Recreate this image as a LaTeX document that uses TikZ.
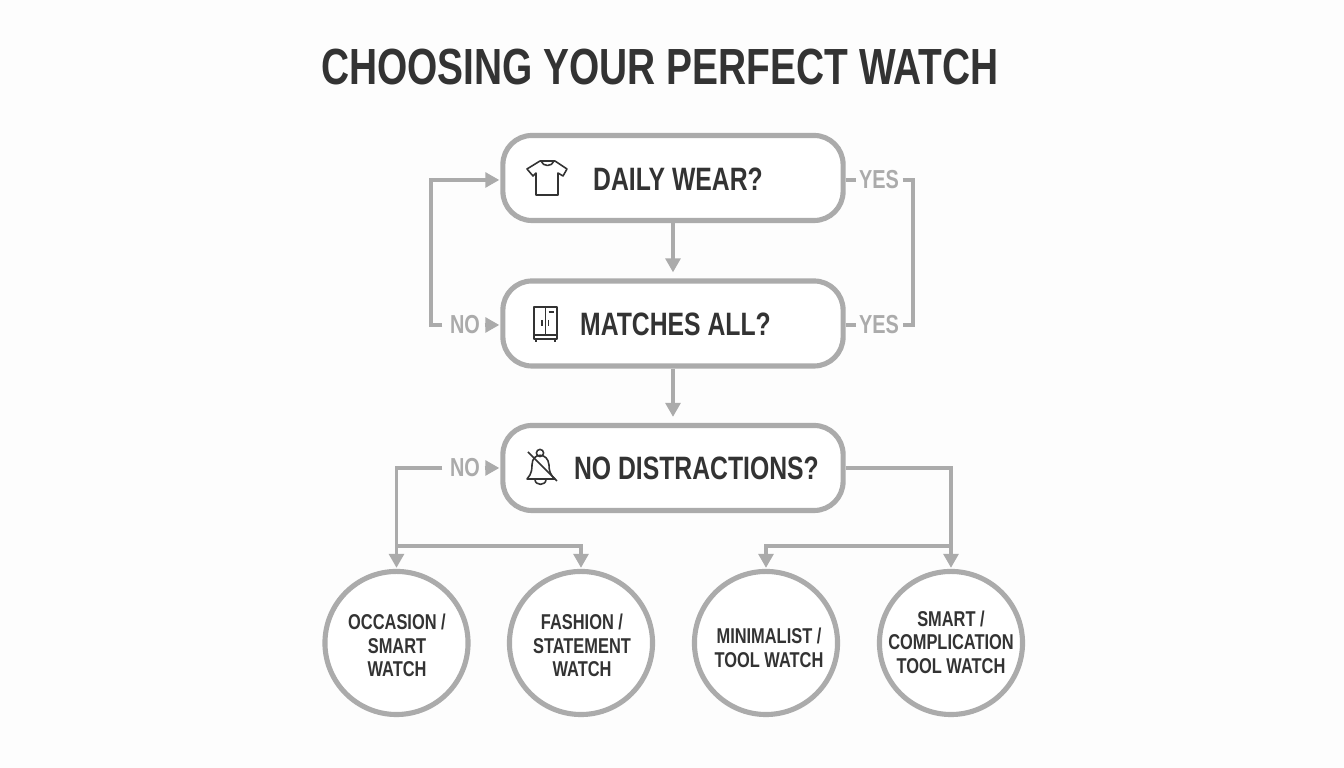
\documentclass[tikz,border=0pt]{standalone}
\usepackage{fontspec}
\newfontfamily\watchfont{Liberation Sans}[FakeStretch=0.765]
\usetikzlibrary{arrows.meta}
\definecolor{watchgrey}{HTML}{ABABAB}
\definecolor{watchink}{HTML}{333333}
\definecolor{watchpaper}{HTML}{FDFDFD}
\tikzset{
  questionbox/.style={draw=watchgrey,fill=white,line width=1.45pt,rounded corners=0.29cm,minimum width=3.4cm,minimum height=0.85cm,inner sep=0pt},
  questiontext/.style={text=watchink,inner sep=0pt,font=\watchfont\bfseries\fontsize{9.2}{11}\selectfont},
  watchcircle/.style={draw=watchgrey,fill=white,line width=1.45pt,circle,minimum size=1.43cm,inner sep=0pt},
  watchtext/.style={text=watchink,inner sep=0pt,align=center,font=\watchfont\bfseries\fontsize{6.1}{6.7}\selectfont},
  answer/.style={text=watchgrey,inner sep=0pt,font=\watchfont\bfseries\fontsize{7.4}{9}\selectfont},
  link/.style={draw=watchgrey,line width=1pt},
  linkarrow/.style={link,shorten >=0.01cm,-{Triangle[length=4pt,width=4.2pt]}},
  icon/.style={watchink,line width=0.45pt,line join=round}
}
\begin{document}
\begin{tikzpicture}[x=0.01cm,y=-0.01cm]
  \useasboundingbox[fill=watchpaper] (0,0) rectangle (1344,768);
  \node[text=watchink,inner sep=0pt,font=\watchfont\bfseries\fontsize{14.45}{17}\selectfont] (title) at (660,67) {CHOOSING YOUR PERFECT WATCH};
  % questions
  \node[questionbox] (daily) at (673,178) {};
  \node[questionbox] (matches) at (673,323.5) {};
  \node[questionbox] (distractions) at (673,468) {};
  \node[questiontext] (dailytext) at (678,179) {DAILY WEAR?};
  \node[questiontext] (matchestext) at (675.5,324) {MATCHES ALL?};
  \node[questiontext] (distractionstext) at (696.5,468) {NO DISTRACTIONS?};
  % answers
  \node[watchcircle] (occasion) at (396.5,643) {};
  \node[watchcircle] (fashion) at (581,643) {};
  \node[watchcircle] (minimalist) at (766,643) {};
  \node[watchcircle] (smart) at (951,643) {};
  \node[watchtext] (occasiontext) at (397,645.5) {OCCASION /\\SMART\\WATCH};
  \node[watchtext] (fashiontext) at (582,645.5) {FASHION /\\STATEMENT\\WATCH};
  \node[watchtext] (minimalisttext) at (769,648) {MINIMALIST /\\TOOL WATCH};
  \node[watchtext] (smarttext) at (951,642) {SMART /\\COMPLICATION\\TOOL WATCH};
  % labels on the lines
  \node[answer] (yesdaily) at (879,180) {YES};
  \node[answer] (yesmatches) at (879,325) {YES};
  \node[answer] (nomatches) at (465,325) {NO};
  \node[answer] (nodistractions) at (465,468) {NO};
  \coordinate (yesbendtop) at (913,180);
  \coordinate (yesbendbottom) at (913,325);
  \coordinate (nobendtop) at (431,180);
  \coordinate (nobendbottom) at (431,325);
  \coordinate (leftcorner) at (396.5,468);
  \coordinate (rightcorner) at (951,468);
  \coordinate (leftsplit) at (396.5,546);
  \coordinate (rightsplit) at (951,546);
  % connectors
  \draw[linkarrow,shorten >=0.06cm] (daily) -- (matches.north);
  \draw[linkarrow,shorten >=0.06cm] (matches) -- (distractions.north);
  \draw[link] (daily.east |- yesdaily) -- ([xshift=-0.02cm]yesdaily.west);
  \draw[link] (matches.east |- yesmatches) -- ([xshift=-0.02cm]yesmatches.west);
  \draw[link] ([xshift=0.03cm]yesdaily.east) -- (yesbendtop) -- (yesbendbottom) -- ([xshift=0.03cm]yesmatches.east);
  \draw[linkarrow] ([xshift=-0.07cm]nomatches.west) -- (nobendbottom) -- (nobendtop) -- (daily.west |- nobendtop);
  \draw[linkarrow] ([xshift=0.04cm]nomatches.east) -- (matches.west |- nomatches);
  \draw[linkarrow] ([xshift=0.04cm]nodistractions.east) -- (distractions.west);
  \draw[linkarrow] ([xshift=-0.07cm]nodistractions.west) -- (leftcorner) -- (occasion.north);
  \draw[linkarrow] (leftsplit) -| (fashion.north);
  \draw[linkarrow] (distractions.east) -- (rightcorner) -- (smart.north);
  \draw[linkarrow] (rightsplit) -| (minimalist.north);
  % shirt
  \draw[icon] (540,161) -- (555,161) -- (567,169) -- (563,176) -- (558,173) -- (558,195) -- (536,195) -- (536,173) -- (533,176) -- (527,169) -- cycle;
  \draw[icon] (541,161) .. controls (543,167) and (552,167) .. (554,161);
  % cupboard
  \draw[icon] (534,307) rectangle (557,339);
  \draw[icon] (545.5,307) -- (545.5,335);
  \draw[icon] (534,335) -- (557,335);
  \draw[icon] (542,320) -- (542,326);
  \draw[icon] (548.5,320) -- (548.5,326);
  \draw[icon] (548.5,312) -- (554,312);
  \draw[icon] (536,339) -- (536,342);
  \draw[icon] (555,339) -- (555,342);
  % bell
  \draw[icon] (540,453) circle[radius=3.6];
  \draw[icon] (527,479) .. controls (532,474) and (532,468) .. (532,465) .. controls (532,452) and (548,452) .. (549,465) .. controls (549,470) and (550,475) .. (555,479) -- cycle;
  \draw[icon] (535,479.5) .. controls (535,486) and (546,486) .. (546,479.5);
  \draw[icon] (528,452) -- (557,481);
\end{tikzpicture}
\end{document}
